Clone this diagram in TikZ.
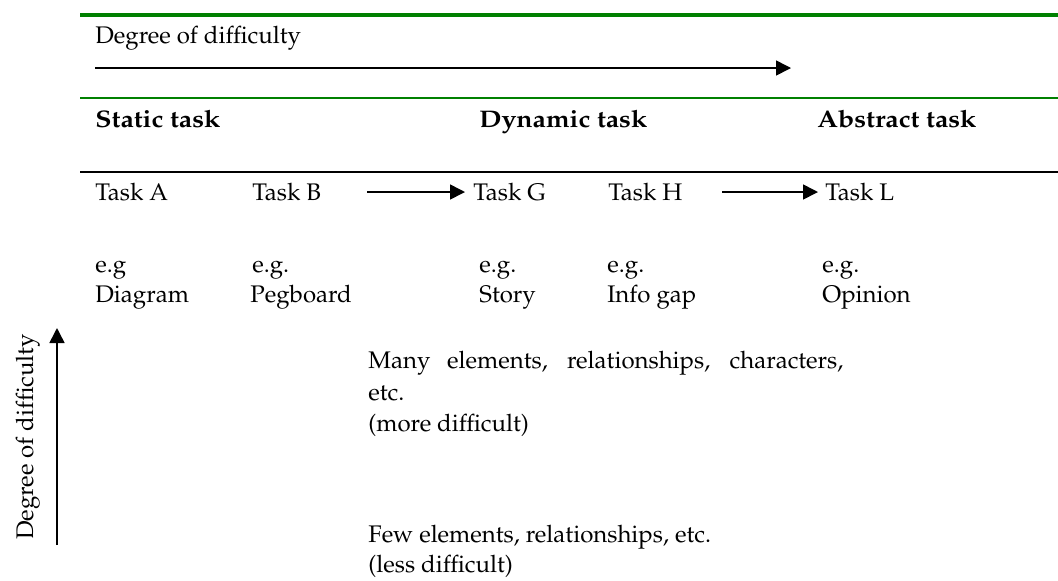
\documentclass[tikz,border=0pt]{standalone}
\usepackage[T1]{fontenc}
\usepackage{mathpazo}
\usepackage{graphicx}
\usetikzlibrary{arrows.meta}

\definecolor{rulegreen}{RGB}{0,128,0}

\tikzset{
  lbl/.style={anchor=base west, inner sep=0pt, font=\fontsize{12}{15}\selectfont},
  head/.style={lbl, font=\fontsize{12}{15}\selectfont\bfseries},
  arr/.style={line width=0.8pt, -{Triangle[length=7.5pt,width=7.5pt]}},
}

\begin{document}
\begin{tikzpicture}[x=0.5pt,y=-0.5pt]

   \useasboundingbox (0,0) rectangle (1058,580);

   % rules of the table
   \draw[rulegreen,line width=1.8pt] (80,15) -- (1058,15);
   \draw[rulegreen,line width=1.1pt] (80,98) -- (1058,98);
   \draw[black,line width=1pt] (80,172) -- (1058,172);

   \node[lbl] (deg) at (95,43) {Degree of difficulty};
   \coordinate (hs) at (95,68);
   \coordinate (he) at (791,68);
   \draw[arr] (hs) -- (he);

   \node[head] (static) at (95,127) {\scalebox{1.11}[1]{Static task}};
   \node[head] (dynamic) at (479,127) {\scalebox{1.11}[1]{Dynamic task}};
   \node[head] (abstract) at (817,127) {\scalebox{1.11}[1]{Abstract task}};

   \node[lbl] (tA) at (95,200) {Task A};
   \node[lbl] (tB) at (252,200) {Task B};
   \node[lbl] (tG) at (473,200) {Task G};
   \node[lbl] (tH) at (608,200) {Task H};
   \node[lbl] (tL) at (825,200) {Task L};

   \coordinate (a1) at (367,192);
   \coordinate (a2) at (722,192);
   \draw[arr] (a1) -- ([xshift=-4pt]tG.west |- a1);
   \draw[arr] (a2) -- ([xshift=-3.5pt]tL.west |- a2);

   \node[lbl] (egA) at (95,272) {e.g};
   \node[lbl] (exA) at (95,302) {Diagram};
   \node[lbl] (egB) at (252,272) {e.g.};
   \node[lbl] (exB) at (250,302) {Pegboard};
   \node[lbl] (egG) at (479,272) {e.g.};
   \node[lbl] (exG) at (479,302) {Story};
   \node[lbl] (egH) at (607,272) {e.g.};
   \node[lbl] (exH) at (607,302) {Info gap};
   \node[lbl] (egL) at (822,272) {e.g.};
   \node[lbl] (exL) at (822,302) {Opinion};

   % vertical scale
   \coordinate (vs) at (57,545);
   \coordinate (ve) at (57,328);
   \draw[arr] (vs) -- (ve);
   \node[lbl,rotate=90] (vdeg) at (33,540) {Degree of difficulty};

   \node[lbl] (many) at (368,368) {\makebox[237.5pt][s]{Many elements, relationships, characters,}};
   \node[lbl] (etc) at (368,400) {etc.};
   \node[lbl] (more) at (368,431) {(more difficult)};
   \node[lbl] (few) at (368,542) {Few elements, relationships, etc.};
   \node[lbl] (less) at (368,572) {(less difficult)};

\end{tikzpicture}
\end{document}
